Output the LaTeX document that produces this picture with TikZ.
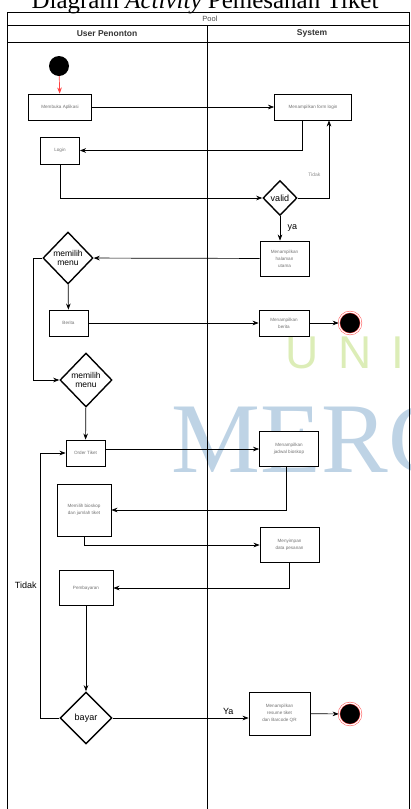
\documentclass[tikz,border=0pt]{standalone}
\usepackage{fontspec}
\setmainfont{Liberation Sans}
\newfontfamily\titlefont{Liberation Serif}
\usepackage{tikz}
\usepackage[svgnames]{xcolor}
\usetikzlibrary{arrows.meta,shapes.geometric}

\begin{document}
\begin{tikzpicture}[x=1pt,y=-1pt,>=Stealth,
    act/.style={draw, fill=white, line width=0.7pt, inner sep=1pt, align=center,
        text=black!55, font=\fontsize{4.6}{7}\selectfont},
    decision/.style={draw, diamond, line width=1.4pt, inner sep=0pt},
    flow/.style={->, line width=0.7pt},
    initstate/.style={circle, fill=black, minimum size=20pt, inner sep=0pt},
    endstate/.style={circle, draw=red!70, fill=black, double=white, double distance=1.2pt,
        line width=0.5pt, minimum size=22pt, inner sep=0pt}]
\useasboundingbox (0,0) rectangle (410,809);
% Watermark behind the diagram
\node[text=YellowGreen!35, font=\fontsize{46}{46}\selectfont, anchor=base west] (wmuni) at (282,368) {U\hspace{20pt}N\hspace{20pt}I};
\node[text=SteelBlue!35, font=\titlefont\fontsize{100}{100}\selectfont, anchor=base west] (wmmerc) at (168,472) {MERC};
% Title (cut by the top edge)
\node[font=\titlefont\fontsize{25}{25}\selectfont, anchor=base] (title) at (205,8) {Diagram \textit{Activity} Pemesanan Tiket};
% Pool and swimlanes
\draw[line width=0.7pt] (7,12) rectangle (409,809);
\draw[line width=0.7pt] (7,25) -- (409,25);
\draw[line width=0.7pt] (7,42) -- (409,42);
\draw[line width=0.7pt] (207,25) -- (207,809);
\node[text=black!70, font=\fontsize{7.5}{8}\selectfont] (pool) at (210,18.5) {Pool};
\node[text=black!80, font=\bfseries\fontsize{8.5}{9}\selectfont] (lane1) at (107,33.5) {User Penonton};
\node[text=black!80, font=\bfseries\fontsize{8.5}{9}\selectfont] (lane2) at (312,33.5) {System};

% Nodes
\node[initstate] (start) at (59,66) {};
\node[act, minimum width=63pt, minimum height=26pt] (buka) at (60,107) {Membuka Aplikasi};
\node[act, minimum width=77pt, minimum height=26pt] (formlogin) at (313,107) {Menampilkan form login};
\node[act, minimum width=39pt, minimum height=27pt] (login) at (60,150.5) {Login};
\node[decision, minimum width=34pt, minimum height=35pt,
    label={[font=\fontsize{9}{9}\selectfont]center:valid}] (valid) at (280,198) {};
\node[act, minimum width=49pt, minimum height=35pt] (utama) at (284.5,258.5) {Menampilkan\\halaman\\utama};
\node[decision, minimum width=50pt, minimum height=52pt,
    label={[font=\fontsize{8.5}{9}\selectfont, align=center]center:memilih\\menu}] (menu1) at (68,258) {};
\node[act, minimum width=39pt, minimum height=26pt] (berita) at (68.5,323) {Berita};
\node[act, minimum width=50pt, minimum height=26pt] (tampilberita) at (284,323) {Menampilkan\\berita};
\node[endstate] (end1) at (350,323) {};
\node[decision, minimum width=52pt, minimum height=54pt,
    label={[font=\fontsize{8.5}{9}\selectfont, align=center]center:memilih\\menu}] (menu2) at (86,380) {};
\node[act, minimum width=39pt, minimum height=26pt] (order) at (85.5,453) {Order Tiket};
\node[act, minimum width=59pt, minimum height=35pt] (jadwal) at (289,449) {Menampilkan\\jadwal bioskop};
\node[act, minimum width=54pt, minimum height=52pt] (pilih) at (84,510) {Memilih bioskop\\dan jumlah tiket};
\node[act, minimum width=59pt, minimum height=35pt] (simpan) at (289.5,545) {Menyimpan\\data pesanan};
\node[act, minimum width=54pt, minimum height=35pt] (bayaran) at (86,588) {Pembayaran};
\node[decision, minimum width=52pt, minimum height=52pt,
    label={[font=\fontsize{9}{9}\selectfont]center:bayar}] (bayar) at (86,718) {};
\node[act, minimum width=61pt, minimum height=43pt] (resume) at (279.5,713.5) {Menampilkan\\resume tiket\\dan Barcode QR};
\node[endstate] (end2) at (350,714) {};

% Connectors
\draw[->, red!75, line width=0.7pt] (start) -- (buka);
\draw[flow] (buka) -- (formlogin);
\draw[flow] ([xshift=-11pt]formlogin.south) |- (login);
\draw[flow] (login) |- (valid);
\draw[flow] (valid.east) -| ([xshift=16pt]formlogin.south)
    node[pos=0.65, left=5pt, text=black!45, font=\fontsize{5}{6}\selectfont] {Tidak};
\draw[flow] (valid) -- (utama.north -| valid)
    node[midway, right=4pt, font=\fontsize{9}{9}\selectfont] {ya};
\draw[flow] (utama) -- (menu1);
\draw[flow] (menu1) -- (berita);
\draw[flow] (berita) -- (tampilberita);
\draw[flow] (tampilberita) -- (end1);
\draw[flow] (menu1.west) -- ++(-9,0) |- (menu2.west);
\draw[flow] (menu2) -- (order);
\draw[flow] (order.east |- jadwal) -- (jadwal);
\draw[flow] ([xshift=-3pt]jadwal.south) |- (pilih);
\draw[flow] (pilih.south) |- (simpan);
\draw[flow] (simpan.south) |- (bayaran);
\draw[flow] (bayaran) -- (bayar);
\draw[flow] (bayar) -- (resume.west |- bayar)
    node[pos=0.85, above, font=\fontsize{9}{9}\selectfont] {Ya};
\draw[flow] (resume) -- (end2);
\draw[flow] (bayar.west) -- ++(-19,0) |- (order.west)
    node[pos=0.25, left, font=\fontsize{9}{9}\selectfont] {Tidak};
\end{tikzpicture}
\end{document}
